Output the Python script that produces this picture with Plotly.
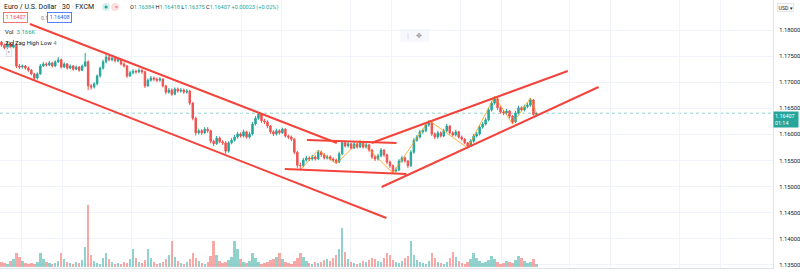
import plotly.graph_objects as go

# ---------------- data (EUR/USD 30m, FXCM) ----------------
first_open = 1.1777
last_open = 1.16384

closes = [
    1.1771, 1.1766, 1.1773, 1.1767, 1.1771, 1.1731, 1.1729, 1.1731, 1.1727, 1.1723,
    1.1716, 1.1708, 1.1716, 1.1731, 1.1735, 1.1733, 1.1737, 1.1731, 1.1739, 1.1743,
    1.1729, 1.1735, 1.1727, 1.1731, 1.1725, 1.1729, 1.1723, 1.1731, 1.1739, 1.1693,
    1.1691, 1.1697, 1.1712, 1.1727, 1.1739, 1.1748, 1.1743, 1.1746, 1.1741, 1.1743,
    1.1735, 1.1731, 1.1712, 1.1718, 1.1721, 1.1720, 1.1723, 1.1720, 1.1693, 1.1704,
    1.1708, 1.1706, 1.1704, 1.1706, 1.1693, 1.1681, 1.1685, 1.1677, 1.1687, 1.1683,
    1.1685, 1.1681, 1.1683, 1.1660, 1.1631, 1.1603, 1.1607, 1.1603, 1.1610, 1.1607,
    1.1587, 1.1582, 1.1593, 1.1586, 1.1584, 1.1568, 1.1584, 1.1589, 1.1595, 1.1601,
    1.1597, 1.1605, 1.1595, 1.1601, 1.1620, 1.1631, 1.1639, 1.1626, 1.1624, 1.1616,
    1.1605, 1.1601, 1.1607, 1.1603, 1.1610, 1.1597, 1.1595, 1.1591, 1.1566, 1.1541,
    1.1540, 1.1551, 1.1555, 1.1553, 1.1557, 1.1553, 1.1566, 1.1561, 1.1555, 1.1557,
    1.1553, 1.1551, 1.1547, 1.1563, 1.1584, 1.1578, 1.1582, 1.1574, 1.1582, 1.1576,
    1.1584, 1.1576, 1.1580, 1.1570, 1.1557, 1.1553, 1.1559, 1.1570, 1.1561, 1.1547,
    1.1540, 1.1530, 1.1532, 1.1549, 1.1555, 1.1549, 1.1540, 1.1566, 1.1589, 1.1595,
    1.1605, 1.1607, 1.1618, 1.1622, 1.1601, 1.1595, 1.1603, 1.1597, 1.1607, 1.1616,
    1.1603, 1.1599, 1.1605, 1.1595, 1.1591, 1.1584, 1.1578, 1.1587, 1.1597, 1.1601,
    1.1614, 1.1620, 1.1628, 1.1647, 1.1660, 1.1668, 1.1651, 1.1643, 1.1641, 1.1645,
    1.1635, 1.1624, 1.1641, 1.1651, 1.1647, 1.1653, 1.1656, 1.1666, 1.1638, 1.16407,
]

highs = [
    1.1779, 1.1774, 1.1777, 1.1776, 1.1781, 1.1774, 1.1735, 1.1734, 1.1733, 1.1730,
    1.1725, 1.1718, 1.1719, 1.1735, 1.1739, 1.1738, 1.1741, 1.1739, 1.1742, 1.1748,
    1.1745, 1.1738, 1.1737, 1.1734, 1.1733, 1.1732, 1.1731, 1.1734, 1.1756, 1.1742,
    1.1697, 1.1700, 1.1715, 1.1730, 1.1743, 1.1753, 1.1751, 1.1750, 1.1748, 1.1747,
    1.1745, 1.1738, 1.1733, 1.1722, 1.1725, 1.1724, 1.1727, 1.1725, 1.1722, 1.1707,
    1.1712, 1.1711, 1.1709, 1.1710, 1.1708, 1.1695, 1.1689, 1.1688, 1.1690, 1.1690,
    1.1689, 1.1688, 1.1687, 1.1685, 1.1662, 1.1634, 1.1611, 1.1610, 1.1614, 1.1614,
    1.1609, 1.1590, 1.1597, 1.1596, 1.1589, 1.1587, 1.1587, 1.1593, 1.1599, 1.1605,
    1.1604, 1.1609, 1.1607, 1.1605, 1.1624, 1.1635, 1.1643, 1.1641, 1.1630, 1.1627,
    1.1618, 1.1608, 1.1611, 1.1610, 1.1613, 1.1612, 1.1600, 1.1598, 1.1593, 1.1568,
    1.1546, 1.1555, 1.1559, 1.1558, 1.1561, 1.1560, 1.1570, 1.1569, 1.1564, 1.1561,
    1.1560, 1.1556, 1.1554, 1.1567, 1.1588, 1.1587, 1.1586, 1.1584, 1.1586, 1.1584,
    1.1588, 1.1587, 1.1584, 1.1582, 1.1572, 1.1560, 1.1563, 1.1574, 1.1572, 1.1563,
    1.1550, 1.1543, 1.1537, 1.1553, 1.1559, 1.1558, 1.1551, 1.1570, 1.1593, 1.1599,
    1.1609, 1.1611, 1.1622, 1.1627, 1.1624, 1.1604, 1.1607, 1.1606, 1.1611, 1.1620,
    1.1618, 1.1606, 1.1609, 1.1607, 1.1598, 1.1593, 1.1586, 1.1591, 1.1601, 1.1605,
    1.1618, 1.1624, 1.1632, 1.1651, 1.1664, 1.1673, 1.1670, 1.1654, 1.1647, 1.1649,
    1.1647, 1.1637, 1.1645, 1.1655, 1.1654, 1.1657, 1.1660, 1.1670, 1.1668, 1.16418,
]

lows = [
    1.1768, 1.1763, 1.1764, 1.1765, 1.1765, 1.1727, 1.1725, 1.1726, 1.1724, 1.1720,
    1.1713, 1.1704, 1.1705, 1.1714, 1.1729, 1.1730, 1.1731, 1.1728, 1.1729, 1.1737,
    1.1726, 1.1727, 1.1724, 1.1725, 1.1722, 1.1723, 1.1720, 1.1721, 1.1729, 1.1685,
    1.1686, 1.1688, 1.1694, 1.1709, 1.1724, 1.1736, 1.1740, 1.1740, 1.1738, 1.1738,
    1.1732, 1.1728, 1.1708, 1.1710, 1.1715, 1.1716, 1.1717, 1.1716, 1.1689, 1.1691,
    1.1701, 1.1702, 1.1700, 1.1701, 1.1690, 1.1677, 1.1678, 1.1674, 1.1675, 1.1680,
    1.1680, 1.1678, 1.1678, 1.1656, 1.1627, 1.1598, 1.1600, 1.1599, 1.1601, 1.1603,
    1.1583, 1.1578, 1.1580, 1.1583, 1.1580, 1.1563, 1.1565, 1.1581, 1.1586, 1.1592,
    1.1594, 1.1594, 1.1592, 1.1592, 1.1598, 1.1617, 1.1628, 1.1622, 1.1620, 1.1612,
    1.1601, 1.1597, 1.1598, 1.1600, 1.1601, 1.1594, 1.1591, 1.1587, 1.1562, 1.1536,
    1.1532, 1.1537, 1.1548, 1.1549, 1.1550, 1.1550, 1.1551, 1.1557, 1.1552, 1.1552,
    1.1550, 1.1547, 1.1544, 1.1545, 1.1560, 1.1575, 1.1575, 1.1571, 1.1572, 1.1573,
    1.1574, 1.1573, 1.1573, 1.1567, 1.1553, 1.1549, 1.1550, 1.1556, 1.1557, 1.1543,
    1.1536, 1.1526, 1.1527, 1.1530, 1.1546, 1.1546, 1.1536, 1.1538, 1.1563, 1.1586,
    1.1592, 1.1601, 1.1604, 1.1615, 1.1597, 1.1591, 1.1592, 1.1594, 1.1595, 1.1604,
    1.1600, 1.1596, 1.1596, 1.1592, 1.1588, 1.1581, 1.1574, 1.1576, 1.1584, 1.1594,
    1.1598, 1.1611, 1.1617, 1.1625, 1.1644, 1.1657, 1.1647, 1.1640, 1.1637, 1.1638,
    1.1631, 1.1620, 1.1622, 1.1638, 1.1644, 1.1644, 1.1650, 1.1653, 1.1636, 1.16375,
]

# volume in thousands
volumes = [
    5, 4, 3, 6, 8, 14, 10, 6, 4, 3,
    4, 3, 5, 14, 8, 5, 4, 3, 4, 6,
    14, 8, 5, 4, 3, 5, 4, 7, 20, 62,
    12, 6, 4, 3, 9, 14, 8, 5, 3, 4,
    3, 5, 4, 8, 18, 9, 5, 4, 7, 18,
    9, 5, 3, 4, 5, 8, 12, 26, 10, 6,
    4, 3, 5, 8, 14, 9, 6, 4, 3, 5,
    11, 26, 12, 6, 4, 5, 7, 10, 26, 18,
    8, 5, 4, 6, 14, 9, 5, 3, 4, 5,
    7, 8, 10, 14, 8, 5, 4, 3, 6, 9,
    14, 10, 6, 4, 3, 5, 4, 5, 7, 8,
    6, 9, 12, 18, 39, 15, 8, 5, 4, 3,
    4, 6, 5, 7, 9, 8, 6, 5, 9, 14,
    12, 7, 5, 4, 6, 9, 11, 26, 12, 7,
    5, 4, 3, 6, 14, 9, 5, 4, 3, 5,
    9, 15, 10, 6, 4, 3, 5, 8, 14, 9,
    6, 4, 5, 7, 11, 8, 5, 3, 4, 6,
    5, 4, 7, 11, 9, 6, 4, 5, 8, 3.166,
]

# Zig Zag High Low (4) pivots
zz_idx = [100, 106, 112, 120, 131, 143, 156, 165, 171, 177, 179]
zz_price = [1.1532, 1.1570, 1.1544, 1.1588, 1.1526, 1.1627, 1.1574, 1.1673, 1.1620, 1.1670, 1.16407]

# drawn trend lines (bar index, price)
tl_x0 = [9.5, -0.5, 102.2, 94.8, 123.8, 127.2]
tl_y0 = [1.18115, 1.17291, 1.15894, 1.15338, 1.15836, 1.14993]
tl_x1 = [112.2, 128.8, 132.2, 135.5, 189.5, 199.8]
tl_y1 = [1.15836, 1.14400, 1.15836, 1.15242, 1.17215, 1.16908]

price_ticks = [1.135, 1.140, 1.145, 1.150, 1.155, 1.160, 1.165, 1.170, 1.175, 1.180]
price_labels = ["%.5f" % v for v in price_ticks]
time_grid = [6.8, 20.5, 43.5, 57.2, 80.2, 93.8, 116.8, 130.5, 153.5, 167.2,
             190.2, 203.8, 226.8, 240.5]

last_price = 1.16407
last_price_label = "1.16407"
countdown = "01:14"

# ---------------- build ----------------
idx = list(range(len(closes)))
opens = [first_open] + closes[:-1]
opens[-1] = last_open

UP = "#26a69a"
DN = "#ef5350"
LINE = "#f4433a"
FONT = "Roboto, Arial, sans-serif"
TXT = "#131722"
W, H = 776, 268  # plot area in px


def pxx(x):
    return x / W


def pxy(y):
    return 1 - y / H


fig = go.Figure()

vol_colors = ["rgba(38,166,154,0.5)" if c >= o else "rgba(239,83,80,0.5)"
              for o, c in zip(opens, closes)]
fig.add_trace(go.Bar(x=idx, y=volumes, marker_color=vol_colors, marker_line_width=0,
                     width=0.8, yaxis="y2", hoverinfo="skip"))

fig.add_trace(go.Scatter(x=zz_idx, y=zz_price, mode="lines", opacity=0.75,
                         line=dict(color="#ff9800", width=1), hoverinfo="skip"))

fig.add_trace(go.Candlestick(
    x=idx, open=opens, high=highs, low=lows, close=closes,
    increasing=dict(line=dict(color=UP, width=1), fillcolor=UP),
    decreasing=dict(line=dict(color=DN, width=1), fillcolor=DN),
    whiskerwidth=0, hoverinfo="skip"))

shapes = []
for x0, y0, x1, y1 in zip(tl_x0, tl_y0, tl_x1, tl_y1):
    shapes.append(dict(type="line", xref="x", yref="y", x0=x0, y0=y0, x1=x1, y1=y1,
                       line=dict(color=LINE, width=2), layer="above"))
shapes.append(dict(type="line", xref="paper", yref="y", x0=0, x1=1, y0=last_price,
                   y1=last_price, line=dict(color="rgba(38,166,154,0.5)", width=1, dash="dot"),
                   layer="below"))
# legend status dots
shapes.append(dict(type="circle", xref="paper", yref="paper", xsizemode="pixel",
                   ysizemode="pixel", xanchor=pxx(106.5), yanchor=pxy(7),
                   x0=-4, x1=4, y0=-4, y1=4, fillcolor="rgba(38,166,154,0.18)",
                   line=dict(width=0)))
shapes.append(dict(type="circle", xref="paper", yref="paper", xsizemode="pixel",
                   ysizemode="pixel", xanchor=pxx(106.5), yanchor=pxy(7),
                   x0=-1.6, x1=1.6, y0=-1.6, y1=1.6, fillcolor=UP, line=dict(width=0)))
shapes.append(dict(type="circle", xref="paper", yref="paper", xsizemode="pixel",
                   ysizemode="pixel", xanchor=pxx(115.5), yanchor=pxy(7),
                   x0=-4, x1=4, y0=-4, y1=4, fillcolor="rgba(239,83,80,0.18)",
                   line=dict(width=0)))
# small toolbar icon in middle
shapes.append(dict(type="rect", xref="paper", yref="paper", x0=pxx(402), x1=pxx(431),
                   y0=pxy(42), y1=pxy(29), fillcolor="rgba(240,243,250,0.6)",
                   line=dict(width=0)))

ann = []


def text(x, y, s, size=6.5, color=TXT, **kw):
    d = dict(xref="paper", yref="paper", x=pxx(x), y=pxy(y), text=s, showarrow=False,
             xanchor="left", yanchor="middle", font=dict(family=FONT, size=size, color=color))
    d.update(kw)
    ann.append(d)


def span(s, c):
    return "<span style='color:%s'>%s</span>" % (c, s)


text(2, 7, "Euro / U.S. Dollar " + span("·", "#9598a1") + " 30 " + span("·", "#9598a1") + " FXCM",
     size=7)
text(113.3, 6.6, "=", size=5.5, color=DN)
ohlc = ("O" + span("1.16384", UP) + " H" + span("1.16418", UP) + " L" + span("1.16375", UP)
        + " C" + span("1.16407", UP) + " " + span("+0.00023 (+0.02%)", UP))
text(128, 7, ohlc, size=5.6)
text(3, 18, "1.16407", size=5.6, color=DN, bordercolor=DN, borderwidth=0.8, borderpad=1.6)
text(39, 18, "0.1", size=5, color="#787b86")
text(47, 18, "1.16408", size=5.6, color="#2962ff", bordercolor="#2962ff", borderwidth=0.8,
     borderpad=1.6)
text(3, 31, "Vol  " + span("3.166K", UP), size=6)
text(3, 42, "Zig Zag High Low " + span("4", "#787b86"), size=6)
text(6, 52, "^", size=6, color="#787b86", bordercolor="#d1d4dc", borderwidth=0.6, borderpad=1)
text(405, 35.5, "⋮", size=6, color="#b2b5be")
text(416, 35.5, "✥", size=7, color="#9598a1")
text(780, 7, "USD ▾", size=5.2, color="#131722", bordercolor="#d1d4dc", borderwidth=0.6,
     borderpad=1, bgcolor="white")
ann.append(dict(xref="paper", yref="paper", x=1.0, y=pxy(111), xanchor="left", yanchor="top",
                text=last_price_label + "<br>" + countdown, showarrow=False, align="left",
                bgcolor=UP, width=22, borderpad=1,
                font=dict(family=FONT, size=5.4, color="white")))

fig.update_layout(
    width=800, height=272, margin=dict(l=0, r=24, t=0, b=4),
    paper_bgcolor="white", plot_bgcolor="white", showlegend=False,
    font=dict(family=FONT, color=TXT),
    xaxis=dict(range=[-0.5, 258.17], tickvals=time_grid, showticklabels=False, ticks="",
               showgrid=True, gridcolor="#f0f3fa", gridwidth=1, zeroline=False,
               rangeslider=dict(visible=False), showline=True, linecolor="#e0e3eb",
               fixedrange=True),
    yaxis=dict(side="right", range=[1.134424, 1.185745], tickvals=price_ticks,
               ticktext=price_labels, tickfont=dict(family=FONT, size=5.8, color=TXT),
               showgrid=True, gridcolor="#f0f3fa", zeroline=False, showline=True,
               linecolor="#e0e3eb", ticks="", ticklabelstandoff=4),
    yaxis2=dict(overlaying="y", range=[-1, 267], visible=False, showgrid=False),
    shapes=shapes, annotations=ann, bargap=0,
)

fig.write_html("out.html")
